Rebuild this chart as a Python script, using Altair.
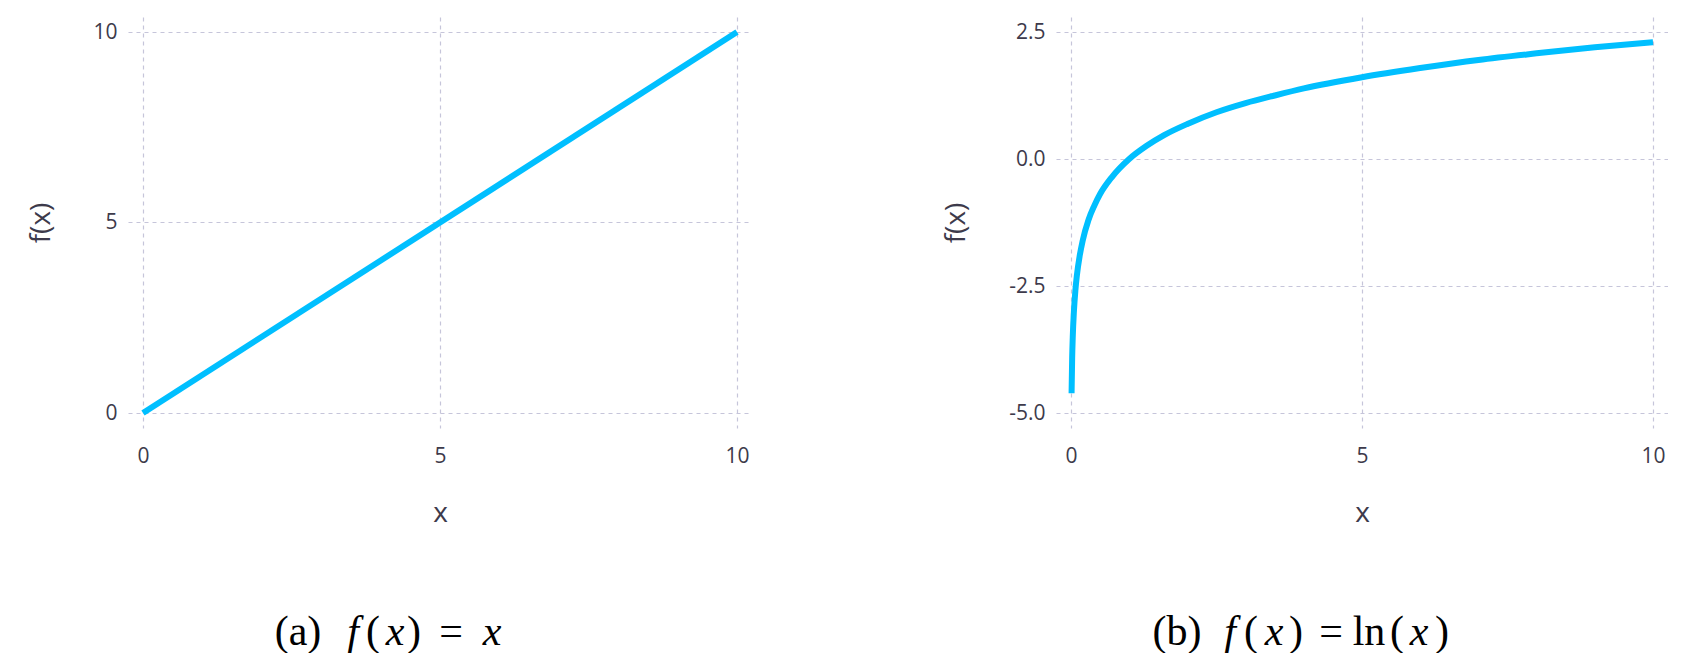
import altair as alt
import pandas as pd

# ---------------- data ----------------
lin_x = [0.0, 10.0]
lin_y = [0.0, 10.0]

log_x = [0.01, 0.02, 0.03, 0.05, 0.075, 0.1, 0.15, 0.2, 0.3, 0.4, 0.5, 0.7,
         1.0, 1.3, 1.6, 2.0, 2.5, 3.0, 3.5, 4.0, 5.0, 6.0, 7.0, 8.0, 9.0, 10.0]
log_y = [-4.61, -3.91, -3.51, -3.00, -2.59, -2.30, -1.90, -1.61, -1.20, -0.92,
         -0.69, -0.36, 0.00, 0.26, 0.47, 0.69, 0.92, 1.10, 1.25, 1.39, 1.61,
         1.79, 1.95, 2.08, 2.20, 2.30]

x_ticks = [0, 5, 10]
lin_y_ticks = [0, 5, 10]
log_y_ticks = [-5.0, -2.5, 0.0, 2.5]

cap_a_text = ["(a)", "f", "(", "x", ")", "=", "x"]
cap_a_italic = [False, True, False, True, False, False, True]
cap_b_text = ["(b)", "f", "(", "x", ")", "=", "ln", "(", "x", ")"]
cap_b_italic = [False, True, False, True, False, False, False, False, True, False]

# ---------------- layout / style ----------------
LINE_COLOR = "#00BFFF"
TEXT_COLOR = "#3d3a4b"
GRID_COLOR = "#c6c5da"
FONT = "Open Sans"
SERIF = "Liberation Serif"
PAD = 15
H = 411
W_LEFT = 624
W_RIGHT = 612
CAP_Y = 628
CAP_SIZE = 42
cap_a_pos = [170, 225, 245, 267, 286, 323, 364]
cap_b_pos = [121, 174, 195, 218, 240, 275, 313, 341, 363, 386]


def caption(texts, italics, positions):
    layers = []
    for t, it, px in zip(texts, italics, positions):
        layers.append(
            alt.Chart(pd.DataFrame({"t": [t]}))
            .mark_text(font=SERIF, fontSize=CAP_SIZE, color="black",
                       fontStyle="italic" if it else "normal",
                       align="center", baseline="alphabetic")
            .encode(x=alt.value(px), y=alt.value(CAP_Y), text="t:N")
        )
    return layers


def panel(xs, ys, yticks, ydomain, title_x, ylabel_expr):
    df = pd.DataFrame({"x": xs, "y": ys})
    return (
        alt.Chart(df)
        .mark_line(color=LINE_COLOR, strokeWidth=6, interpolate="monotone")
        .encode(
            x=alt.X("x:Q",
                    scale=alt.Scale(domain=[0, 10], padding=PAD, nice=False, zero=False),
                    axis=alt.Axis(values=x_ticks, title="x", titleY=85,
                                  titleBaseline="middle", labelPadding=17,
                                  format="d")),
            y=alt.Y("y:Q",
                    scale=alt.Scale(domain=ydomain, padding=PAD, nice=False, zero=False),
                    axis=alt.Axis(values=yticks, title="f(x)", titleX=title_x,
                                  titleY=H / 2, titleBaseline="middle",
                                  labelPadding=11, labelExpr=ylabel_expr)),
        )
    )


line_a = panel(lin_x, lin_y, lin_y_ticks, [0, 10], -87,
               "format(datum.value, 'd')")
line_b = panel(log_x, log_y, log_y_ticks, [-5, 2.5], -100,
               "datum.value < 0 ? '-' + format(-datum.value, '.1f') : format(datum.value, '.1f')")

left = alt.layer(line_a, *caption(cap_a_text, cap_a_italic, cap_a_pos)).properties(
    width=W_LEFT, height=H)
right = alt.layer(line_b, *caption(cap_b_text, cap_b_italic, cap_b_pos)).properties(
    width=W_RIGHT, height=H)

chart = (
    alt.hconcat(left, right, spacing=190)
    .properties(padding={"left": 19, "top": 9, "right": 0, "bottom": 0})
    .configure_view(stroke=None)
    .configure_axis(
        grid=True, gridColor=GRID_COLOR, gridDash=[4, 4], gridWidth=1.2,
        ticks=False, domain=False,
        labelFont=FONT, labelFontSize=21, labelColor=TEXT_COLOR,
        titleFont=FONT, titleFontSize=28, titleFontWeight="normal",
        titleColor=TEXT_COLOR,
    )
)

chart.save("out.html", embed_options={"renderer": "svg", "actions": False})
